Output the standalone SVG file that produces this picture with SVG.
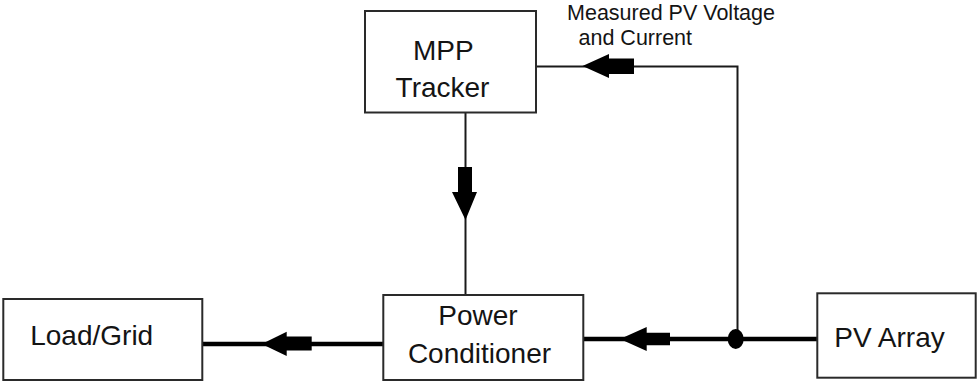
<svg xmlns="http://www.w3.org/2000/svg" width="977" height="382" viewBox="0 0 977 382">
  <style>
    .box { fill: #ffffff; stroke: #2a2a2a; stroke-width: 2; }
    .label { font-family: "Liberation Sans", Arial, sans-serif; font-size: 28px; fill: #141414; text-anchor: middle; }
    .note { font-family: "Liberation Sans", Arial, sans-serif; font-size: 21.5px; fill: #141414; text-anchor: middle; }
    .wire { fill: none; stroke: #1a1a1a; stroke-width: 2; }
    .bus { fill: none; stroke: #000000; stroke-width: 4.5; }
    .head { fill: #000000; stroke: none; }
  </style>

  <!-- connectors -->
  <g id="connectors">
    <!-- PV measurement feedback to the tracker -->
    <polyline class="wire" points="536,66.5 737.5,66.5 737.5,339"/>
    <polygon class="head" points="582.5,66 609,54 609,58.5 634,58.5 634,74 609,74 609,78"/>

    <!-- tracker command down to the power conditioner -->
    <line class="wire" x1="465.5" y1="112" x2="465.5" y2="295"/>
    <polygon class="head" points="458,167 472,167 472,192 477,192 465.5,220 452,192 458,192"/>

    <!-- power flow: PV array to power conditioner -->
    <line class="bus" x1="583" y1="339" x2="817" y2="339"/>
    <polygon class="head" points="620,339 646.7,327 646.7,332.7 670,332.7 670,345.3 646.7,345.3 646.7,351"/>
    <ellipse cx="735.7" cy="339" rx="8" ry="10" fill="#000000"/>

    <!-- power flow: power conditioner to load/grid -->
    <line class="bus" x1="202" y1="344" x2="383" y2="344"/>
    <polygon class="head" points="261.7,344 286.7,331.7 286.7,336.5 311.7,336.5 311.7,350.5 286.7,350.5 286.7,356"/>
  </g>

  <!-- measurement label -->
  <g id="measurement-label">
    <text class="note" x="671" y="20">Measured PV Voltage</text>
    <text class="note" x="635.3" y="45">and Current</text>
  </g>

  <g id="mpp-tracker">
    <rect class="box" x="365" y="11" width="171" height="101.5"/>
    <text class="label" x="443.3" y="60">MPP</text>
    <text class="label" x="442.5" y="96.7">Tracker</text>
  </g>

  <g id="power-conditioner">
    <rect class="box" x="383.3" y="295" width="200" height="85"/>
    <text class="label" x="478" y="325">Power</text>
    <text class="label" x="479.5" y="362.7">Conditioner</text>
  </g>

  <g id="load-grid">
    <rect class="box" x="3.3" y="299" width="199" height="81"/>
    <text class="label" x="91.7" y="345">Load/Grid</text>
  </g>

  <g id="pv-array">
    <rect class="box" x="817.3" y="293.3" width="158.4" height="84.4"/>
    <text class="label" x="889.5" y="346.7">PV Array</text>
  </g>
</svg>
